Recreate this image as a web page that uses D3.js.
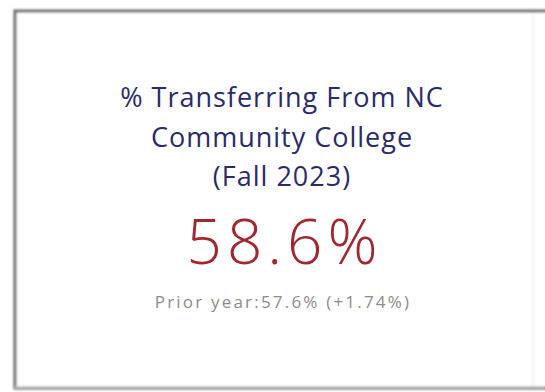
<!DOCTYPE html>
<html>
<head>
<meta charset="utf-8">
<script src="https://cdn.jsdelivr.net/npm/d3@7"></script>
<style>
  html, body { margin: 0; padding: 0; background: #fff; }
  svg { display: block; }
</style>
</head>
<body>
<svg id="card" width="545" height="392"></svg>
<script>
// KPI card: share of students transferring from an NC community college
const titleLines = ["% Transferring From NC", "Community College", "(Fall 2023)"];
const currentValue = [58.6];
const priorValue = [57.6];
const changePct = [1.74];
const priorLabel = ["Prior year:"];

const W = 545, H = 392;
const svg = d3.select("#card");

const defs = svg.append("defs");
const blur = defs.append("filter").attr("id", "soft")
  .attr("x", "-5%").attr("y", "-5%").attr("width", "110%").attr("height", "110%");
blur.append("feGaussianBlur").attr("stdDeviation", 1.3);

// card frame
const frame = svg.append("g").attr("filter", "url(#soft)");
frame.append("rect")
  .attr("x", 15).attr("y", 11).attr("width", W + 10).attr("height", 377)
  .attr("fill", "#fff").attr("stroke", "#6a6a6a").attr("stroke-width", 3);
frame.append("line")
  .attr("x1", 15).attr("x2", W).attr("y1", 387).attr("y2", 387)
  .attr("stroke", "#c8c8c8").attr("stroke-width", 2);
frame.append("line")
  .attr("x1", 533).attr("x2", 533).attr("y1", 14).attr("y2", 386)
  .attr("stroke", "#f0f0f0").attr("stroke-width", 1.5);

const cx = 282;
const fmt = d3.format(".1f");

svg.append("g").selectAll("text")
  .data(titleLines)
  .join("text")
  .attr("x", cx)
  .attr("y", (d, i) => 107 + i * 39.5)
  .attr("text-anchor", "middle")
  .attr("font-family", "'Open Sans', sans-serif")
  .attr("font-size", 27)
  .attr("letter-spacing", 1)
  .attr("fill", "#2b2b68")
  .text(d => d);

svg.append("text")
  .data(currentValue)
  .attr("x", cx + 2.5)
  .attr("y", 264)
  .attr("text-anchor", "middle")
  .attr("font-family", "'Open Sans', sans-serif")
  .attr("font-weight", 300)
  .attr("font-size", 62)
  .attr("letter-spacing", 5)
  .attr("fill", "#a2262d")
  .text(d => fmt(d) + "%");

svg.append("text")
  .attr("x", cx + 1)
  .attr("y", 308)
  .attr("text-anchor", "middle")
  .attr("font-family", "'Open Sans', sans-serif")
  .attr("font-size", 17)
  .attr("letter-spacing", 2.2)
  .attr("fill", "#8c8c8c")
  .text(priorLabel[0] + fmt(priorValue[0]) + "% (+" + d3.format(".2f")(changePct[0]) + "%)");
</script>
</body>
</html>
